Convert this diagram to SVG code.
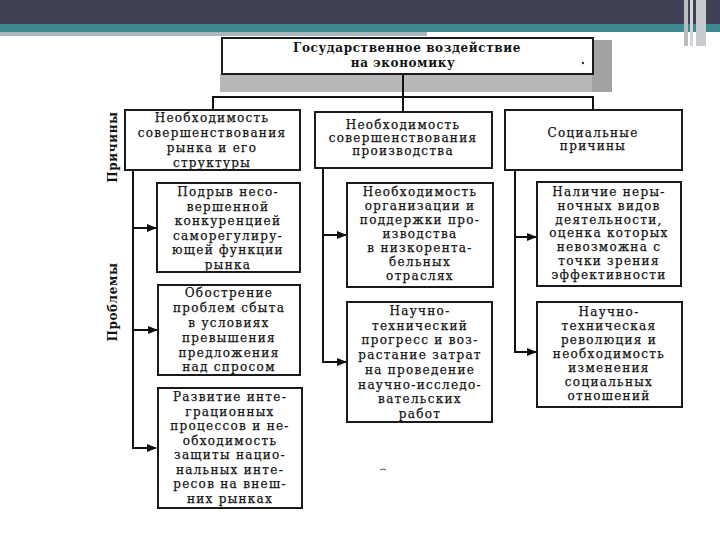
<svg xmlns="http://www.w3.org/2000/svg" width="720" height="540" viewBox="0 0 720 540">
<defs>
<marker id="ah" markerWidth="10" markerHeight="8" refX="9" refY="4" orient="auto" markerUnits="userSpaceOnUse">
<path d="M0,0 L10,4 L0,8 Z" fill="#111"/>
</marker>
<style>
.box{fill:#fff;stroke:#1a1a1a;stroke-width:2}
.t{font-family:"DejaVu Serif","Liberation Serif",serif;font-size:12px;fill:#141414;stroke:#141414;stroke-width:0.25;text-anchor:middle;letter-spacing:1.3px}
.b{font-family:"DejaVu Serif","Liberation Serif",serif;font-size:12px;font-weight:bold;fill:#141414;text-anchor:middle;letter-spacing:0.6px}
.c{fill:none;stroke:#111;stroke-width:2}
</style>
</defs>
<rect width="720" height="540" fill="#fff"/>
<!-- header -->
<rect x="0" y="0" width="720" height="24" fill="#3f4254"/>
<rect x="0" y="24" width="720" height="8" fill="#3c8a90"/>
<rect x="0" y="32" width="427" height="4" fill="#a9b7bc"/>
<rect x="684" y="0" width="4" height="46" fill="#b9bdc2"/>
<rect x="690" y="0" width="3" height="46" fill="#d2d5d8"/>
<rect x="696" y="0" width="10" height="46" fill="#c7cbcf"/>
<!-- shadow under title -->
<rect x="220" y="74" width="392" height="18" fill="#b8b8b8"/>
<rect x="592" y="40" width="20" height="52" fill="#a3a3a3"/>
<g id="title">
<rect class="box" x="222" y="38" width="371" height="36"/>
<text class="b" x="407" y="52">Государственное воздействие</text>
<text class="b" x="403" y="67">на экономику</text>
<circle cx="583" cy="63" r="1.2" fill="#333"/>
</g>
<g id="labels">
<text class="b" transform="translate(117,147) rotate(-90)">Причины</text>
<text class="b" transform="translate(117,302) rotate(-90)">Проблемы</text>
</g>
<g id="connectors">
<path class="c" d="M403,74 V97 M213,110 V97 H593 V110 M403,97 V112"/>
<path class="c" d="M133,170 V448 H156" marker-end="url(#ah)"/>
<path class="c" d="M133,228 H156" marker-end="url(#ah)"/>
<path class="c" d="M133,330 H157" marker-end="url(#ah)"/>
<path class="c" d="M323,168 V362 H346" marker-end="url(#ah)"/>
<path class="c" d="M323,235 H346" marker-end="url(#ah)"/>
<path class="c" d="M515,170 V352 H536" marker-end="url(#ah)"/>
<path class="c" d="M515,237 H536" marker-end="url(#ah)"/>
</g>
<g id="cause1">
<rect class="box" x="125" y="110" width="175" height="60"/>
<text class="t" x="212" y="122">Необходимость</text>
<text class="t" x="212" y="137">совершенствования</text>
<text class="t" x="212" y="152">рынка и его</text>
<text class="t" x="212" y="167">структуры</text>
</g>
<g id="cause2">
<rect class="box" x="315" y="112" width="177" height="56"/>
<text class="t" x="403" y="129">Необходимость</text>
<text class="t" x="403" y="142">совершенствования</text>
<text class="t" x="403" y="155">производства</text>
</g>
<g id="cause3">
<rect class="box" x="505" y="110" width="177" height="60"/>
<text class="t" x="593" y="137">Социальные</text>
<text class="t" x="593" y="150">причины</text>
</g>
<g id="p11">
<rect class="box" x="157" y="183" width="143" height="89"/>
<text class="t" x="228" y="196">Подрыв несо-</text>
<text class="t" x="228" y="210.5">вершенной</text>
<text class="t" x="228" y="225">конкуренцией</text>
<text class="t" x="228" y="239.5">саморегулиру-</text>
<text class="t" x="228" y="254">ющей функции</text>
<text class="t" x="228" y="268.5">рынка</text>
</g>
<g id="p12">
<rect class="box" x="158" y="285" width="142" height="90"/>
<text class="t" x="229" y="297">Обострение</text>
<text class="t" x="229" y="312">проблем сбыта</text>
<text class="t" x="229" y="327">в условиях</text>
<text class="t" x="229" y="342">превышения</text>
<text class="t" x="229" y="357">предложения</text>
<text class="t" x="229" y="371">над спросом</text>
</g>
<g id="p13">
<rect class="box" x="158" y="388" width="144" height="120"/>
<text class="t" x="230" y="401">Развитие инте-</text>
<text class="t" x="230" y="415.5">грационных</text>
<text class="t" x="230" y="430">процессов и не-</text>
<text class="t" x="230" y="444.5">обходимость</text>
<text class="t" x="230" y="459">защиты нацио-</text>
<text class="t" x="230" y="473.5">нальных инте-</text>
<text class="t" x="230" y="488">ресов на внеш-</text>
<text class="t" x="230" y="502.5">них рынках</text>
</g>
<g id="p21">
<rect class="box" x="347" y="183" width="146" height="104"/>
<text class="t" x="420" y="196">Необходимость</text>
<text class="t" x="420" y="210">организации и</text>
<text class="t" x="420" y="224">поддержки про-</text>
<text class="t" x="420" y="238">изводства</text>
<text class="t" x="420" y="252">в низкорента-</text>
<text class="t" x="420" y="266">бельных</text>
<text class="t" x="420" y="280">отраслях</text>
</g>
<g id="p22">
<rect class="box" x="347" y="302" width="145" height="120"/>
<text class="t" x="420" y="315">Научно-</text>
<text class="t" x="420" y="329.7">технический</text>
<text class="t" x="420" y="344.4">прогресс и воз-</text>
<text class="t" x="420" y="359.1">растание затрат</text>
<text class="t" x="420" y="373.8">на проведение</text>
<text class="t" x="420" y="388.5">научно-исследо-</text>
<text class="t" x="420" y="403.2">вательских</text>
<text class="t" x="420" y="417.9">работ</text>
</g>
<g id="p31">
<rect class="box" x="537" y="182" width="144" height="104"/>
<text class="t" x="609" y="196">Наличие неры-</text>
<text class="t" x="609" y="209.8">ночных видов</text>
<text class="t" x="609" y="223.6">деятельности,</text>
<text class="t" x="609" y="237.4">оценка которых</text>
<text class="t" x="609" y="251.2">невозможна с</text>
<text class="t" x="609" y="265">точки зрения</text>
<text class="t" x="609" y="278.8">эффективности</text>
</g>
<g id="p32">
<rect class="box" x="537" y="302" width="145" height="105"/>
<text class="t" x="609" y="316">Научно-</text>
<text class="t" x="609" y="330">техническая</text>
<text class="t" x="609" y="344">революция и</text>
<text class="t" x="609" y="358">необходимость</text>
<text class="t" x="609" y="372">изменения</text>
<text class="t" x="609" y="386">социальных</text>
<text class="t" x="609" y="400">отношений</text>
</g>
<path d="M380,470 q3,-2 6,0" fill="none" stroke="#555" stroke-width="1"/>
</svg>
